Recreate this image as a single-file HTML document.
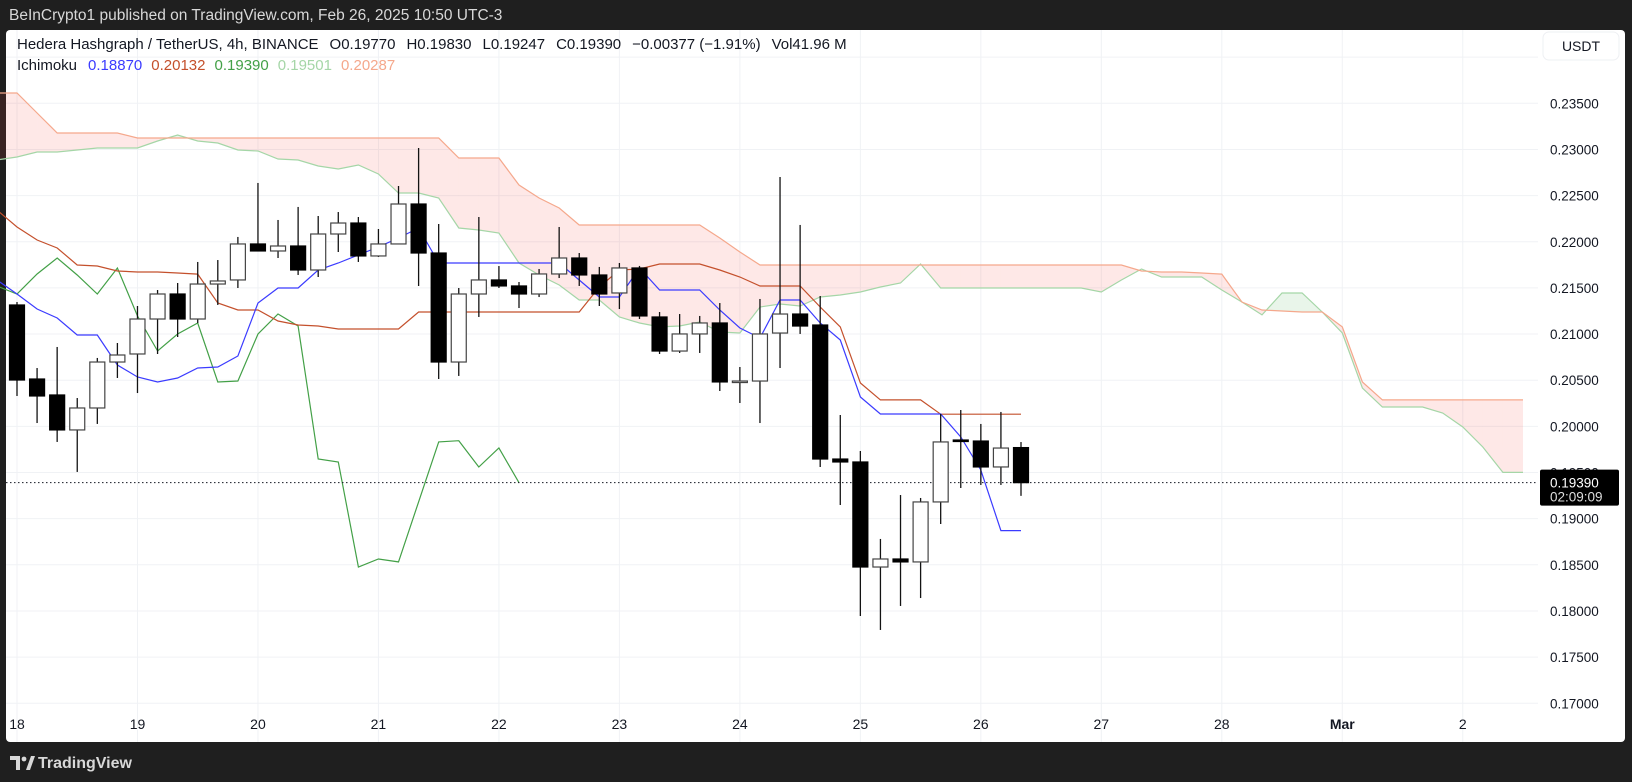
<!DOCTYPE html>
<html><head><meta charset="utf-8"><style>
html,body{margin:0;padding:0;background:#1f1f1f;width:1632px;height:782px;overflow:hidden}
svg{display:block}
text{font-family:"Liberation Sans",sans-serif}
</style></head><body>
<svg id="chart" width="1632" height="782" viewBox="0 0 1632 782">
<rect x="0" y="0" width="1632" height="782" fill="#1f1f1f"/>
<text x="9" y="20" font-size="15.5" fill="#d8d8d8">BeInCrypto1 published on TradingView.com, Feb 26, 2025 10:50 UTC-3</text>
<rect x="6" y="30" width="1619" height="712" rx="4" fill="#ffffff"/>
<g id="grid"></g>
<g id="cloud"></g>
<g id="lines"></g>
<g id="candles"></g>
<g id="axes"></g>
<g>
<text x="17" y="49" font-size="15" fill="#131722">Hedera Hashgraph / TetherUS, 4h, BINANCE<tspan dx="11">O0.19770</tspan><tspan dx="11">H0.19830</tspan><tspan dx="11">L0.19247</tspan><tspan dx="11">C0.19390</tspan><tspan dx="11">−0.00377 (−1.91%)</tspan><tspan dx="11">Vol41.96 M</tspan></text>
<text x="17" y="70" font-size="15" fill="#131722">Ichimoku<tspan dx="11" fill="#3b3bff">0.18870</tspan><tspan dx="9" fill="#c4502c">0.20132</tspan><tspan dx="9" fill="#43a047">0.19390</tspan><tspan dx="9" fill="#a5d6a7">0.19501</tspan><tspan dx="9" fill="#f5a88c">0.20287</tspan></text>
</g>
<g>
<rect x="1543" y="32" width="76" height="28" rx="6" fill="#fff" stroke="#eef0f3"/>
<text x="1581" y="51" font-size="14" fill="#131722" text-anchor="middle">USDT</text>
</g>
<g>
<path d="M10 756 h10 v14 h-4 v-10 h-6 z" fill="#d8d8d8"/>
<circle cx="24" cy="759" r="2.4" fill="#d8d8d8"/>
<path d="M26 770 l5 -14 h4 l-5 14 z" fill="#d8d8d8"/>
<text x="38" y="768" font-size="16" font-weight="bold" fill="#d8d8d8">TradingView</text>
</g>
</svg>
<script>
// ---- data ----
const opens  = [.21315,.20513,.2034,.19961,.20199,.20697,.20784,.21163,.21434,.21163,.21542,.21586,.21976,.219,.21954,.21694,.22084,.22203,.21846,.21976,.22409,.21878,.20697,.21434,.21586,.21521,.21434,.21651,.21824,.2164,.21445,.21716,.21185,.20816,.21001,.2112,.20491,.20491,.21011,.21217,.21098,.19646,.19614,.18476,.18563,.18531,.19181,.19852,.19841,.1956,.1977];
const highs  = [.21347,.20632,.2086,.20307,.20741,.20903,.21304,.21477,.21553,.21781,.21802,.22052,.22637,.22236,.22377,.22279,.22322,.22268,.22138,.22604,.23016,.22192,.21499,.22268,.21737,.21564,.21705,.2216,.21878,.21727,.2177,.21738,.21239,.21217,.21196,.21336,.20643,.2138,.22702,.22182,.21412,.20123,.19733,.1878,.19256,.19224,.20134,.20177,.20026,.20156,.1983];
const lows   = [.20329,.20036,.19831,.19506,.20026,.20524,.20361,.20784,.20968,.2112,.21315,.21499,.219,.21824,.2164,.21618,.21889,.21781,.21835,.21976,.21521,.20513,.20546,.21185,.21499,.21282,.21401,.21607,.21521,.21304,.21271,.21163,.20784,.20795,.20795,.20383,.20253,.20036,.20632,.21001,.1956,.19148,.17945,.17794,.18054,.1814,.18942,.19332,.19365,.19365,.19247];
const closes = [.20502,.20329,.19961,.20199,.20697,.20773,.21163,.21434,.21163,.21542,.21575,.21976,.219,.21954,.21694,.22084,.22203,.21846,.21976,.22409,.21878,.20697,.21434,.21586,.21521,.21434,.21651,.21824,.2164,.21434,.21716,.21196,.20816,.21001,.2112,.20481,.20491,.21001,.21217,.21087,.19646,.19614,.18476,.18563,.18531,.19181,.19831,.19845,.1956,.19765,.1939];
const tenkan = [.21586,.21434,.21271,.21174,.2099,.2099,.20665,.20535,.20481,.20524,.20632,.20643,.20762,.21336,.21499,.21499,.21694,.2177,.21857,.21943,.22041,.22149,.2177,.2177,.2177,.2177,.2177,.2177,.2177,.21586,.21401,.21401,.21716,.21477,.21477,.21477,.21261,.21066,.20957,.21369,.21369,.2112,.20936,.20318,.20134,.20134,.20134,.20134,.19885,.19527,.1887,.1887];
const kijun = [.22344,.2216,.22019,.21932,.21748,.21737,.21683,.21672,.21672,.21661,.2165,.21336,.21261,.21261,.21141,.21098,.21087,.21055,.21055,.21055,.21055,.21239,.21239,.21239,.21239,.21239,.21239,.21239,.21239,.21239,.2151,.21694,.21705,.21759,.21759,.21759,.21694,.21618,.21521,.21521,.21521,.21293,.21077,.2047,.20287,.20287,.20287,.20132,.20132,.20132,.20132,.20132];
const spanA = [.22886,.22918,.22972,.22972,.22994,.23016,.23016,.23016,.23092,.23157,.23092,.2307,.22994,.22983,.22897,.22886,.22821,.22788,.22832,.22734,.22528,.22528,.22474,.22149,.22127,.22095,.2177,.2164,.21531,.21369,.21369,.21185,.2112,.21077,.21087,.21131,.21022,.21011,.21293,.21326,.21304,.21401,.21423,.21456,.2151,.21553,.21759,.21499,.21499,.21499,.21499,.21499,.21499,.21499,.21499,.21456,.21586,.21705,.21618,.21618,.21618,.21477,.21347,.21207,.21445,.21445,.21239,.21011,.20416,.2021,.2021,.2021,.20145,.19993,.19776,.19501,.19501];
const spanB = [.23612,.23612,.23395,.23178,.23178,.23178,.23178,.23124,.23124,.23124,.23124,.23124,.23124,.23124,.23124,.23124,.23124,.23124,.23124,.23124,.23124,.23124,.23124,.22907,.22907,.22907,.22615,.22474,.22366,.22181,.22181,.22181,.22181,.22181,.22181,.22181,.22041,.21889,.21748,.21748,.21748,.21748,.21748,.21748,.21748,.21748,.21748,.21748,.21748,.21748,.21748,.21748,.21748,.21748,.21748,.21748,.21748,.21683,.21672,.21672,.21661,.2165,.21347,.21261,.2125,.21239,.21239,.21077,.20481,.20287,.20287,.20287,.20287,.20287,.20287,.20287,.20287];
const laggingShift = 25;
const priceTicks = ["0.23500","0.23000","0.22500","0.22000","0.21500","0.21000","0.20500","0.20000","0.19500","0.19000","0.18500","0.18000","0.17500","0.17000"];
const dayLabels = ["18","19","20","21","22","23","24","25","26","27","28","Mar","2"];
const lastPrice = 0.1939;

const NS = "http://www.w3.org/2000/svg";
const X0 = 17, STEP = 20.08, DAY = 6;
function xs(i){ return X0 + i*STEP; }
function ys(p){ return 103.3 + (0.235 - p)/0.005*46.15; }
function mk(tag, attrs, parent){ const e=document.createElementNS(NS,tag); for(const k in attrs) e.setAttribute(k,attrs[k]); parent.appendChild(e); return e; }
const grid=document.getElementById('grid'), cloud=document.getElementById('cloud'), lines=document.getElementById('lines'), cg=document.getElementById('candles'), axes=document.getElementById('axes');
const PLOT_R = 1538;

[0.24].concat(priceTicks.map(Number)).forEach(function(p){
  const y=ys(p);
  const gl=mk('line',{x1:6,x2:PLOT_R,y1:y,y2:y,stroke:'#f0f2f5','stroke-width':1},grid);
  
  
});
priceTicks.forEach(function(t){
  const tx=mk('text',{x:1550,y:ys(Number(t))+5,'font-size':13.5,fill:'#131722'},axes);
  tx.textContent=t;
  
  
});
dayLabels.forEach(function(d,k){
  const x=xs(k*DAY);
  const gl=mk('line',{x1:x,x2:x,y1:30,y2:742,stroke:'#f0f2f5','stroke-width':1},grid);
  
  
  const tx=mk('text',{x:x,y:729,'font-size':14,fill:'#131722','text-anchor':'middle','font-weight':d==='Mar'?'bold':'normal'},axes);
  tx.textContent=d;
  
  
});

for(let k=0;k<spanA.length-1;k++){
  const i=k-1;
  const a0=spanA[k],a1=spanA[k+1],b0=spanB[k],b1=spanB[k+1];
  const d0=a0-b0,d1=a1-b1;
  function poly(xa,xb,pa0,pa1,pb0,pb1,green){
    const pg=mk('polygon',{points:[xa+','+ys(pa0),xb+','+ys(pa1),xb+','+ys(pb1),xa+','+ys(pb0)].join(' '),fill:green?'rgba(76,175,80,0.12)':'rgba(244,67,54,0.12)'},cloud);
    
    
  }
  if(d0*d1<0){
    const t=d0/(d0-d1); const xm=xs(i)+t*STEP; const pm=a0+t*(a1-a0);
    poly(xs(i),xm,a0,pm,b0,pm,d0>0);
    poly(xm,xs(i+1),pm,a1,pm,b1,d1>0);
  } else poly(xs(i),xs(i+1),a0,a1,b0,b1,(d0+d1)>0);
}
function pathOf(arr,start){ return arr.map(function(v,k){return (k?'L':'M')+xs(k+start).toFixed(1)+' '+ys(v).toFixed(1);}).join(' '); }
let pth;
pth=mk('path',{d:pathOf(spanA,-1),fill:'none',stroke:'#a5d6a7','stroke-width':1.2},lines);


pth=mk('path',{d:pathOf(spanB,-1),fill:'none',stroke:'#f5a88c','stroke-width':1.2},lines);


const lagging=closes.slice(laggingShift-1);
pth=mk('path',{d:pathOf(lagging,-1),fill:'none',stroke:'#43a047','stroke-width':1.2},lines);


pth=mk('path',{d:pathOf(kijun,-1),fill:'none',stroke:'#c4502c','stroke-width':1.2},lines);


pth=mk('path',{d:pathOf(tenkan,-1),fill:'none',stroke:'#3b3bff','stroke-width':1.2},lines);



const pl=mk('line',{x1:6,x2:PLOT_R,y1:ys(lastPrice),y2:ys(lastPrice),stroke:'#131722','stroke-width':1,'stroke-dasharray':'1.5 2.5'},lines);



for(let i=0;i<opens.length;i++){
  const x=xs(i), o=opens[i], c=closes[i], up=c>=o;
  const wk=mk('line',{x1:x,x2:x,y1:ys(highs[i]),y2:ys(lows[i]),stroke:'#131313','stroke-width':1.3},cg);
  
  
  const top=ys(Math.max(o,c)), bot=ys(Math.min(o,c));
  const bd=mk('rect',{x:x-7.5,y:top,width:15,height:Math.max(bot-top,1.5),fill:up?'#ffffff':'#000000',stroke:up?'#444':'#000','stroke-width':1.2},cg);
  
  
}

const ty=ys(lastPrice);
const tag=mk('rect',{x:1540,y:ty-13,width:79,height:36,rx:2,fill:'#000'},axes);


const t1=mk('text',{x:1550,y:ty+5,'font-size':13.5,fill:'#fff'},axes);
t1.textContent=lastPrice.toFixed(5);


const t2=mk('text',{x:1550,y:ty+19,'font-size':13.5,fill:'#ddd'},axes);
t2.textContent='02:09:09';


</script>
</body></html>
